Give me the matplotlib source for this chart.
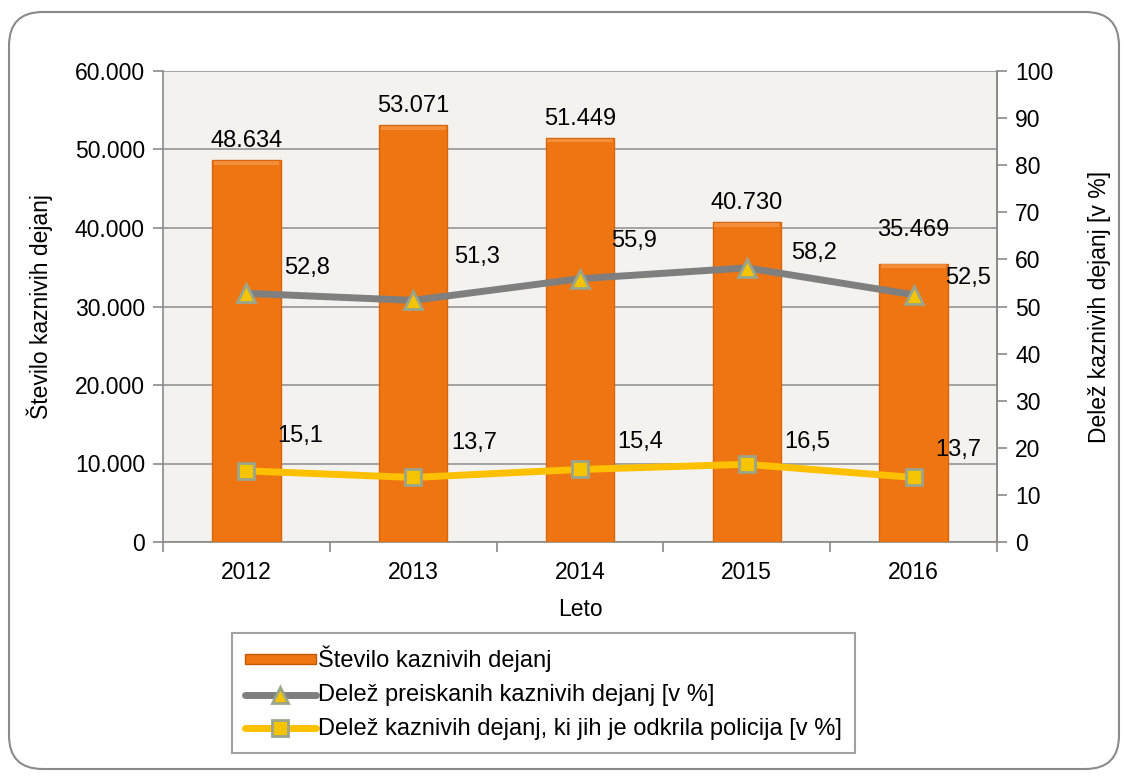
import matplotlib
matplotlib.use("Agg")
import matplotlib.pyplot as plt
from matplotlib.patches import FancyBboxPatch
from matplotlib.ticker import FuncFormatter, MultipleLocator
from matplotlib.lines import Line2D
from matplotlib.patches import Patch

plt.rcParams['font.family'] = ['Liberation Sans', 'DejaVu Sans']

years = ['2012', '2013', '2014', '2015', '2016']
stevilo = [48634, 53071, 51449, 40730, 35469]
preiskanih = [52.8, 51.3, 55.9, 58.2, 52.5]
policija = [15.1, 13.7, 15.4, 16.5, 13.7]

label_bar = 'Število kaznivih dejanj'
label_gray = 'Delež preiskanih kaznivih dejanj [v %]'
label_yellow = 'Delež kaznivih dejanj, ki jih je odkrila policija [v %]'

# label offsets in pixels (style)
bar_off = [8, 8, 8, 8, 23]
gray_off = [(61, 25), (64, 43), (54, 38), (67, 15), (54, 17)]
yel_off = [(54, 35), (61, 34), (60, 27), (60, 22), (45, 27)]

FS = 16.5
fig = plt.figure(figsize=(11.24, 7.78), dpi=100)
W, H = 1124, 778

# rounded outer border
border = FancyBboxPatch((9 / W, 9 / H), (1119 - 9) / W, (766 - 9) / H,
                        boxstyle="round,pad=0,rounding_size=0.03",
                        transform=fig.transFigure, facecolor='white',
                        edgecolor='#8a8a8a', linewidth=1.5, zorder=-10,
                        mutation_aspect=W / H)
fig.patches.append(border)

ax = fig.add_axes([163 / W, 1 - 542 / H, (997 - 163) / W, (542 - 71) / H])
ax.set_facecolor('#F3F2EF')
x = list(range(len(years)))
ax.bar(x, stevilo, width=0.41, color='#EF7512', edgecolor='#D8650C',
       linewidth=1.0, zorder=3)
# subtle bevel highlight at top of bars
ax.bar(x, [500] * len(x), bottom=[v - 550 for v in stevilo], width=0.39,
       color='#F59A4C', linewidth=0, zorder=4, alpha=0.7)
ax.set_xlim(-0.5, len(years) - 0.5)
ax.set_ylim(0, 60000)
ax.yaxis.set_major_locator(MultipleLocator(10000))
ax.yaxis.set_major_formatter(FuncFormatter(lambda v, p: f"{int(v):,}".replace(',', '.')))
ax.grid(axis='y', color='#9c9c9c', linewidth=1.3, zorder=0)
ax.set_axisbelow(True)
ax.set_xticks(x)
ax.set_xticklabels(years)
ax.set_xticks([i + 0.5 for i in range(-1, len(years))], minor=True)
ax.tick_params(axis='x', which='major', length=0, labelsize=FS, pad=14)
ax.tick_params(axis='x', which='minor', length=7, color='#8a8a8a', width=1.2)
ax.tick_params(axis='y', length=7, color='#8a8a8a', width=1.2, labelsize=FS, pad=6)
ax.spines['top'].set_visible(False)
for s in ['left', 'bottom', 'right']:
    ax.spines[s].set_color('#8a8a8a')
    ax.spines[s].set_linewidth(1.2)
ax.set_ylabel('Število kaznivih dejanj', fontsize=FS, labelpad=16)
ax.set_xlabel('Leto', fontsize=FS, labelpad=10)

for xi, v, off in zip(x, stevilo, bar_off):
    ax.annotate(f"{v:,}".replace(',', '.'), (xi, v), xytext=(0, off),
                textcoords='offset pixels', ha='center', va='bottom', fontsize=17, zorder=6)

ax2 = ax.twinx()
ax2.set_ylim(0, 100)
ax2.yaxis.set_major_locator(MultipleLocator(10))
ax2.tick_params(axis='y', length=7, color='#8a8a8a', width=1.2, labelsize=FS, pad=6)
for s in ['top', 'left', 'bottom']:
    ax2.spines[s].set_visible(False)
ax2.spines['right'].set_color('#8a8a8a')
ax2.spines['right'].set_linewidth(1.2)
ax2.set_ylabel('Delež kaznivih dejanj [v %]', fontsize=FS, labelpad=25)

ax2.plot(x, preiskanih, color='#7F7F7F', linewidth=5, solid_capstyle='round',
         marker='^', markersize=13, markerfacecolor='#F5C400',
         markeredgecolor='#9AA58C', markeredgewidth=2, zorder=5)
ax2.plot(x, policija, color='#FFC000', linewidth=5, solid_capstyle='round',
         marker='s', markersize=12, markerfacecolor='#F5C400',
         markeredgecolor='#9AA58C', markeredgewidth=2, zorder=5)

for xi, v, off in zip(x, preiskanih, gray_off):
    ax2.annotate(f"{v}".replace('.', ','), (xi, v), xytext=off,
                 textcoords='offset pixels', ha='center', va='center', fontsize=17)
for xi, v, off in zip(x, policija, yel_off):
    ax2.annotate(f"{v}".replace('.', ','), (xi, v), xytext=off,
                 textcoords='offset pixels', ha='center', va='center', fontsize=17)

handles = [
    Patch(facecolor='#EF7512', edgecolor='#C65A0A', label=label_bar),
    Line2D([0], [0], color='#7F7F7F', linewidth=5, solid_capstyle='round',
           marker='^', markersize=12, markerfacecolor='#F5C400',
           markeredgecolor='#9AA58C', markeredgewidth=2, label=label_gray),
    Line2D([0], [0], color='#FFC000', linewidth=5, solid_capstyle='round',
           marker='s', markersize=11, markerfacecolor='#F5C400',
           markeredgecolor='#9AA58C', markeredgewidth=2, label=label_yellow),
]
leg = fig.legend(handles=handles, loc='upper left',
                 bbox_to_anchor=(232 / W, 1 - 633 / H), fontsize=17,
                 frameon=True, fancybox=False, edgecolor='#8a8a8a',
                 handlelength=3.0, handleheight=0.25, handletextpad=0.1,
                 labelspacing=0.5, borderpad=0.55, borderaxespad=0)
leg.get_frame().set_linewidth(1.5)

fig.savefig('out.png', dpi=100)
